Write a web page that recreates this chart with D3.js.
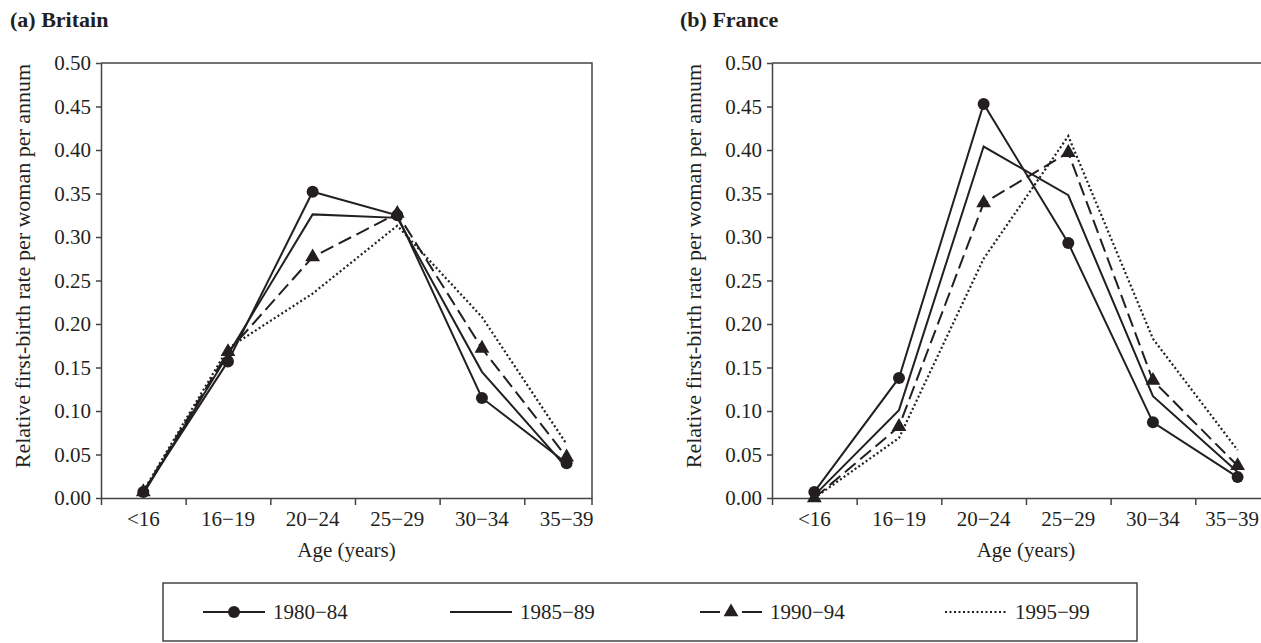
<!DOCTYPE html>
<html>
<head>
<meta charset="utf-8">
<script src="https://cdn.jsdelivr.net/npm/d3@7"></script>
<style>
  body { margin: 0; background: #fff; }
  svg { font-family: "Liberation Serif", "DejaVu Serif", serif; }
</style>
</head>
<body>
<script>
const width = 1261;
const height = 643;
const ink = "#231f20";

// age groups and tick values
const ageGroups = ["<16", "16\u221219", "20\u221224", "25\u221229", "30\u221234", "35\u221239"];
const yTicks = [0, 0.05, 0.1, 0.15, 0.2, 0.25, 0.3, 0.35, 0.4, 0.45, 0.5];
const periods = ["1980\u221284", "1985\u221289", "1990\u221294", "1995\u221299"];

// Britain
const britain8084 = [0.007, 0.157, 0.352, 0.325, 0.115, 0.040];
const britain8589 = [0.005, 0.165, 0.326, 0.322, 0.145, 0.035];
const britain9094 = [0.007, 0.168, 0.277, 0.327, 0.172, 0.047];
const britain9599 = [0.008, 0.172, 0.235, 0.313, 0.208, 0.062];

// France
const france8084 = [0.007, 0.138, 0.453, 0.293, 0.087, 0.024];
const france8589 = [0.003, 0.101, 0.404, 0.348, 0.117, 0.030];
const france9094 = [0.000, 0.082, 0.339, 0.397, 0.135, 0.037];
const france9599 = [0.000, 0.069, 0.275, 0.416, 0.183, 0.055];

const styles = [
  { dash: null, marker: "circle" },
  { dash: null, marker: null },
  { dash: "14,6", marker: "triangle" },
  { dash: "2,2.5", marker: null },
];

const svg = d3
  .select("body")
  .append("svg")
  .attr("width", width)
  .attr("height", height)
  .attr("viewBox", [0, 0, width, height]);

const y = d3.scaleLinear([0, 0.5], [498, 63]);

function drawPanel(title, titleX, left, ageLabelAt, series) {
  const x = d3.scaleLinear([0, 5.8], [left, left + 491]);
  const g = svg.append("g");

  g.append("text")
    .attr("x", titleX)
    .attr("y", 27)
    .attr("font-weight", "bold")
    .attr("font-size", 22)
    .attr("fill", ink)
    .text(title);

  // frame top + right
  g.append("path")
    .attr("d", `M${x(0)},${y(0.5)}H${x(5.8)}V${y(0) + 7}`)
    .attr("fill", "none")
    .attr("stroke", "#444")
    .attr("stroke-width", 1.5);

  const yAxis = g
    .append("g")
    .attr("transform", `translate(${x(0)},0)`)
    .call(
      d3.axisLeft(y).tickValues(yTicks).tickFormat(d3.format(".2f")).tickSize(5).tickSizeOuter(0)
    );
  yAxis.selectAll("text").attr("font-size", 21).attr("fill", ink).attr("font-family", "Liberation Serif").attr("dx", -2);

  const xAxis = g
    .append("g")
    .attr("transform", `translate(0,${y(0)})`)
    .call(d3.axisBottom(x).tickValues(d3.range(0, 6)).tickFormat("").tickSize(7).tickSizeOuter(0));

  [yAxis, xAxis].forEach((a) => {
    a.select(".domain").attr("stroke", "#444").attr("stroke-width", 1.5);
    a.selectAll(".tick line").attr("stroke", "#444").attr("stroke-width", 1.5);
  });

  g.append("g")
    .selectAll("text")
    .data(ageGroups)
    .join("text")
    .attr("x", (d, i) => x(i + 0.5))
    .attr("y", y(0) + 28)
    .attr("text-anchor", "middle")
    .attr("font-size", 21)
    .attr("fill", ink)
    .text((d) => d)
    .each(function () {
      // keep the last label inside the page
      const w = this.getComputedTextLength();
      const cx = +this.getAttribute("x");
      if (cx + w / 2 > width - 2) this.setAttribute("x", width - 2 - w / 2);
    });

  g.append("text")
    .attr("x", x(ageLabelAt))
    .attr("y", 557)
    .attr("text-anchor", "middle")
    .attr("font-size", 21)
    .attr("fill", ink)
    .text("Age (years)");

  g.append("text")
    .attr("transform", `translate(${x(0) - 71},266) rotate(-90)`)
    .attr("text-anchor", "middle")
    .attr("font-size", 22)
    .attr("fill", ink)
    .text("Relative first-birth rate per woman per annum");

  const line = d3
    .line()
    .x((d, i) => x(i + 0.5))
    .y((d) => y(d));

  series.forEach((values, k) => {
    const s = styles[k];
    g.append("path")
      .attr("d", line(values))
      .attr("fill", "none")
      .attr("stroke", ink)
      .attr("stroke-width", k === 3 ? 2.2 : 2)
      .attr("stroke-dasharray", s.dash);

    if (s.marker === "circle") {
      g.append("g")
        .selectAll("circle")
        .data(values)
        .join("circle")
        .attr("cx", (d, i) => x(i + 0.5))
        .attr("cy", (d) => y(d))
        .attr("r", 6)
        .attr("fill", ink);
    } else if (s.marker === "triangle") {
      g.append("g")
        .selectAll("path")
        .data(values)
        .join("path")
        .attr("transform", (d, i) => `translate(${x(i + 0.5)},${y(d)})`)
        .attr("d", d3.symbol(d3.symbolTriangle, 95))
        .attr("fill", ink);
    }
  });
}

drawPanel("(a) Britain", 10, 101, 2.9, [britain8084, britain8589, britain9094, britain9599]);
drawPanel("(b) France", 680, 772, 3.0, [france8084, france8589, france9094, france9599]);

// legend
const legend = svg.append("g");
legend
  .append("rect")
  .attr("x", 163)
  .attr("y", 583)
  .attr("width", 974)
  .attr("height", 58)
  .attr("fill", "none")
  .attr("stroke", "#444")
  .attr("stroke-width", 1.5);

const legendX = [203, 450, 700, 945];
const ly = 612;
periods.forEach((p, k) => {
  const s = styles[k];
  const lx = legendX[k];
  legend
    .append("line")
    .attr("x1", lx)
    .attr("x2", lx + 62)
    .attr("y1", ly)
    .attr("y2", ly)
    .attr("stroke", ink)
    .attr("stroke-width", 2)
    .attr("stroke-dasharray", s.dash === "14,6" ? "20,22,20" : s.dash);
  if (s.marker === "circle") {
    legend.append("circle").attr("cx", lx + 31).attr("cy", ly).attr("r", 6).attr("fill", ink);
  } else if (s.marker === "triangle") {
    legend
      .append("path")
      .attr("transform", `translate(${lx + 31},${ly})`)
      .attr("d", d3.symbol(d3.symbolTriangle, 95))
      .attr("fill", ink);
  }
  legend
    .append("text")
    .attr("x", lx + 70)
    .attr("y", ly + 7)
    .attr("font-size", 21)
    .attr("fill", ink)
    .text(p);
});
</script>
</body>
</html>
